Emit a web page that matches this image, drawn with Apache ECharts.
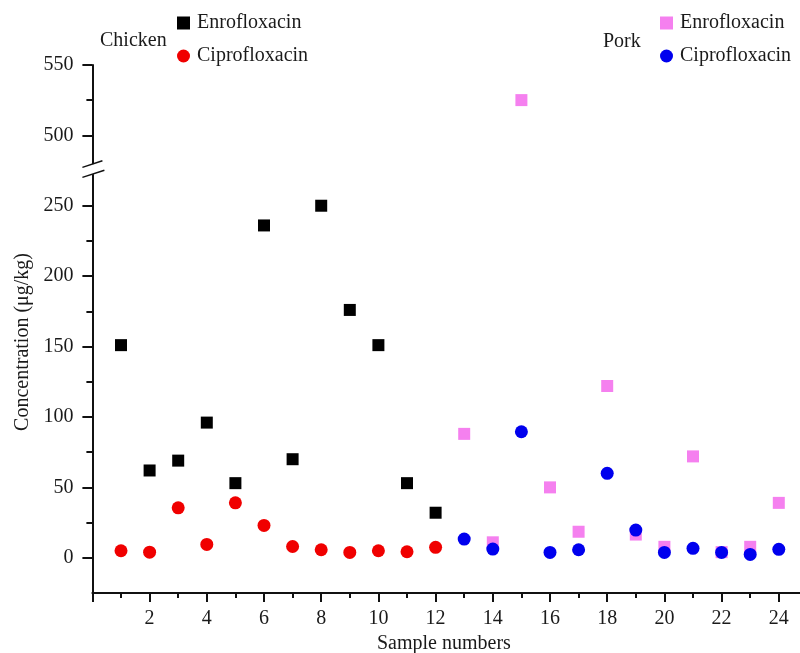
<!DOCTYPE html>
<html>
<head>
<meta charset="utf-8">
<script src="https://cdn.jsdelivr.net/npm/echarts@6/dist/echarts.min.js"></script>
<style>
  html, body { margin: 0; padding: 0; background: #fff; }
  #chart { width: 800px; height: 653px; }
</style>
</head>
<body>
<div id="chart"></div>
<script>
// ---- Data ----
const chickenSamples = [1, 2, 3, 4, 5, 6, 7, 8, 9, 10, 11, 12];
const porkSamples = [13, 14, 15, 16, 17, 18, 19, 20, 21, 22, 23, 24];
const chickenEnrofloxacin = [151, 62, 69, 96, 53, 236, 70, 250, 176, 151, 53, 32];
const chickenCiprofloxacin = [5, 4, 35.5, 9.5, 39, 23, 8, 5.7, 3.8, 5, 4.3, 7.4];
const porkEnrofloxacin = [88, 11, 525, 50, 18.5, 122, 16.5, 7.8, 72, 4, 7.8, 39];
const porkCiprofloxacin = [13.3, 6.2, 89.5, 3.8, 5.7, 60, 19.7, 3.8, 6.7, 3.8, 2.4, 6];
const yTickValues = [0, 50, 100, 150, 200, 250, 500, 550];
const yMinorTickValues = [25, 75, 125, 175, 225, 525];
const xTickLabels = [2, 4, 6, 8, 10, 12, 14, 16, 18, 20, 22, 24];

// broken axis: values above the break are shifted down
const breakLow = 250, breakHigh = 500, breakShift = 200;
const mapY = v => (v >= breakHigh ? v - breakShift : v);
const unmapY = v => (v > breakLow ? v + breakShift : v);

const FONT = 'Liberation Serif';
const TXT = '#1a1a1a';

const pairs = (xs, ys) => xs.map((x, i) => [x, mapY(ys[i])]);

const chart = echarts.init(document.getElementById('chart'), null, { renderer: 'canvas' });

const legendBase = {
  orient: 'vertical', top: 8, itemWidth: 13, itemHeight: 13, itemGap: 13,
  textStyle: { fontFamily: FONT, fontSize: 20, color: TXT, padding: [0, 0, 0, 2] },
  formatter: n => n.replace(/^(Chicken|Pork) /, '')
};

const option = {
  backgroundColor: '#fff',
  animation: false,
  textStyle: { fontFamily: FONT },
  grid: { left: 92.4, top: 64.9, width: 715, height: 528.1, containLabel: false, outerBoundsMode: 'none' },
  legend: [
    Object.assign({}, legendBase, { left: 172, data: ['Chicken Enrofloxacin', 'Chicken Ciprofloxacin'] }),
    Object.assign({}, legendBase, { left: 655, data: ['Pork Enrofloxacin', 'Pork Ciprofloxacin'] })
  ],
  xAxis: {
    type: 'value', min: 0, max: 25, interval: 2,
    name: 'Sample numbers', nameLocation: 'middle', nameGap: 38,
    nameTextStyle: { fontFamily: FONT, fontSize: 20, color: TXT, padding: [0, 12, 0, 0] },
    axisLine: { onZero: false, lineStyle: { color: '#111', width: 2 } },
    axisTick: { inside: false, length: 9, lineStyle: { color: '#111', width: 2 } },
    minorTick: { show: true, splitNumber: 2, length: 5, lineStyle: { color: '#111', width: 2 } },
    splitLine: { show: false },
    axisLabel: {
      fontFamily: FONT, fontSize: 20, color: TXT, margin: 16,
      customValues: xTickLabels,
      formatter: v => String(v)
    }
  },
  yAxis: [
    {
      type: 'value', min: -25, max: 350, position: 'left',
      name: 'Concentration (μg/kg)', nameLocation: 'middle', nameGap: 58,
      nameTextStyle: { fontFamily: FONT, fontSize: 20, color: TXT, padding: [0, 26, 0, 0] },
      axisLine: { show: true, lineStyle: { color: '#111', width: 2 } },
      axisTick: { show: true, length: 10, customValues: yTickValues.map(mapY), lineStyle: { color: '#111', width: 2 } },
      splitLine: { show: false },
      axisLabel: {
        fontFamily: FONT, fontSize: 20, color: TXT, margin: 19,
        customValues: yTickValues.map(mapY),
        formatter: v => String(unmapY(v))
      }
    },
    {
      type: 'value', min: -25, max: 350, position: 'left',
      axisLine: { show: false },
      axisTick: { show: true, length: 6, customValues: yMinorTickValues.map(mapY), lineStyle: { color: '#111', width: 2 } },
      axisLabel: { show: false },
      splitLine: { show: false }
    }
  ],
  series: [
    { name: 'Chicken Enrofloxacin', type: 'scatter', symbol: 'rect', symbolSize: 12,
      itemStyle: { color: '#000000', opacity: 1 }, data: pairs(chickenSamples, chickenEnrofloxacin) },
    { name: 'Chicken Ciprofloxacin', type: 'scatter', symbol: 'circle', symbolSize: 13,
      itemStyle: { color: '#f00000', opacity: 1 }, data: pairs(chickenSamples, chickenCiprofloxacin) },
    { name: 'Pork Enrofloxacin', type: 'scatter', symbol: 'rect', symbolSize: 12,
      itemStyle: { color: '#f580ef', opacity: 1 }, data: pairs(porkSamples, porkEnrofloxacin) },
    { name: 'Pork Ciprofloxacin', type: 'scatter', symbol: 'circle', symbolSize: 13,
      itemStyle: { color: '#0000ee', opacity: 1 }, data: pairs(porkSamples, porkCiprofloxacin) }
  ]
};
chart.setOption(option);

// Group labels and axis-break mark
const p = chart.convertToPixel({ gridIndex: 0 }, [0, 276]);
const bx = p[0], by = p[1];
chart.setOption({
  graphic: [
    { type: 'text', left: 100, top: 31, style: { text: 'Chicken', fontFamily: FONT, fontSize: 20, fill: TXT } },
    { type: 'text', left: 603, top: 32, style: { text: 'Pork', fontFamily: FONT, fontSize: 20, fill: TXT } },
    { type: 'rect', shape: { x: bx - 3, y: by - 5, width: 6, height: 10 }, style: { fill: '#fff' }, z: 100 },
    { type: 'line', shape: { x1: bx - 10, y1: by - 5 + 3.3, x2: bx + 10, y2: by - 5 - 3.3 }, style: { stroke: '#111', lineWidth: 1.5 }, z: 101 },
    { type: 'line', shape: { x1: bx - 10, y1: by + 5 + 3.3, x2: bx + 12, y2: by + 5 - 3.9 }, style: { stroke: '#111', lineWidth: 1.5 }, z: 101 }
  ]
});
</script>
</body>
</html>
